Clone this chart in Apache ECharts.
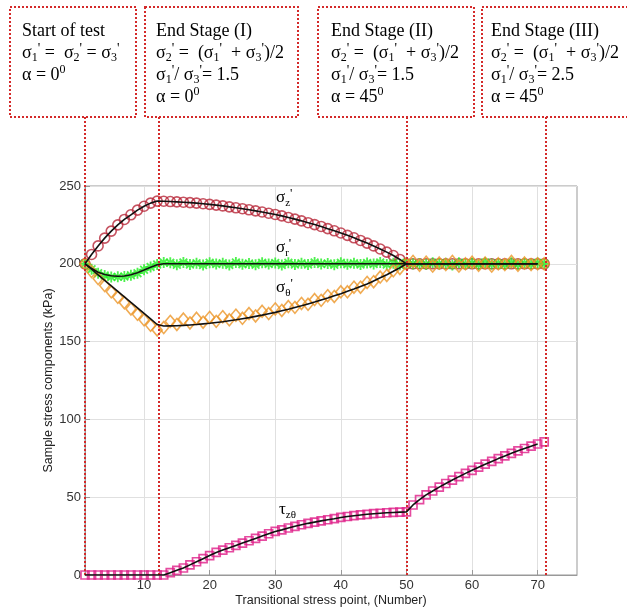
<!DOCTYPE html>
<html>
<head>
<meta charset="utf-8">
<script src="https://cdn.jsdelivr.net/npm/echarts@6/dist/echarts.min.js"></script>
<style>
html, body { margin: 0; padding: 0; background: #fff; }
#chart { width: 627px; height: 609px; }
</style>
</head>
<body>
<div id="chart"></div>
<script>
// stress point n = 1..71
var sigmaZ = [200, 206, 211.5, 216.5, 221, 225, 228.5, 231.5, 234.5, 237, 239, 240.3, 240.2,
	240, 239.8, 239.6, 239.3, 239, 238.6, 238.2, 237.7, 237.2, 236.6,
	236, 235.4, 234.7, 234, 233.3, 232.5, 231.7, 230.8, 229.8, 228.7,
	227.6, 226.4, 225.2, 224, 222.6, 221.2, 219.8, 218.3, 216.7, 215,
	213.3, 211.5, 209.5, 207.5, 205.3, 202.8, 200,
	200, 200, 200, 200, 200, 200, 200, 200, 200, 200,
	200, 200, 200, 200, 200, 200, 200, 200, 200, 200, 200];
var sigmaRFit = [200, 197, 194.6, 193.1, 192.3, 192, 192.2, 193, 194.3, 196, 197.8, 199.4, 200,
	200, 200, 200, 200, 200, 200, 200, 200, 200, 200,
	200, 200, 200, 200, 200, 200, 200, 200, 200, 200,
	200, 200, 200, 200, 200, 200, 200, 200, 200, 200,
	200, 200, 200, 200, 200, 200, 200, 200, 200, 200,
	200, 200, 200, 200, 200, 200, 200, 200, 200, 200,
	200, 200, 200, 200, 200, 200, 200, 200];
var sigmaRTest = [200, 196.5, 194, 192.5, 191.5, 191.6, 191.8, 192.6, 194, 196.2, 198, 199.6, 200.8,
	200.6, 199.4, 200.9, 199.6, 200.3, 199.2, 200.7, 199.8, 200.4, 199.3,
	200.8, 199.7, 200.2, 199.4, 200.6, 199.9, 200.5, 199.3, 200.7, 199.6,
	200.3, 199.5, 200.8, 199.8, 200.2, 199.4, 200.6, 199.7, 200.4, 199.5,
	200.5, 199.8, 200.9, 199.6, 200.3, 199.4, 200.7, 199.9, 200.2, 199.5,
	200.6, 199.8, 200.4, 199.3, 200.7, 199.7, 200.3, 199.6, 200.9, 199.8,
	200.2, 199.5, 200.6, 199.7, 200.4, 199.9, 200.5, 200];
var sigmaTFit = [200, 196.5, 192.9, 189.4, 185.8, 182.3, 178.8, 175.2, 171.7, 168.1, 164.6, 161, 160,
	160.1, 160.2, 160.4, 160.7, 161, 161.4, 161.8, 162.3, 162.8, 163.4,
	164, 164.7, 165.4, 166.2, 167, 167.9, 168.8, 169.8, 170.8, 171.9,
	173, 174.2, 175.4, 176.7, 178, 179.4, 180.8, 182.3, 183.8, 185.4,
	187, 189, 191, 193, 195.2, 197.5, 200,
	200, 200, 200, 200, 200, 200, 200, 200, 200, 200,
	200, 200, 200, 200, 200, 200, 200, 200, 200, 200, 200];
var sigmaTTest = [200, 195, 190.5, 186, 182, 178.5, 175, 171, 167.5, 164, 160.5, 157.5, 159,
	163, 161, 164.5, 162, 165, 162.5, 165.5, 163, 166, 164,
	167, 165, 168, 166.5, 169.5, 168, 171, 170, 172.5, 172,
	174.5, 174, 177, 176.5, 179.5, 179, 182, 182, 185, 185,
	188, 188.5, 191.5, 192.5, 195.5, 197, 200,
	201.5, 199, 201, 198.5, 200.5, 199.5, 201.5, 198.5, 200, 201,
	199, 200.5, 198.5, 200, 199.5, 201.5, 199, 200.5, 199.5, 200, 200];
var tauZT = [0, 0, 0, 0, 0, 0, 0, 0, 0, 0, 0, 0, 0,
	1.5, 3, 4.5, 6.5, 8.5, 10.5, 12.5, 14.5, 16, 17.5,
	19, 20.5, 22, 23.5, 25, 26.5, 28, 29, 30.2, 31.3,
	32.3, 33.2, 34, 34.8, 35.5, 36.2, 37, 37.6, 38.1, 38.6,
	39, 39.4, 39.7, 40, 40.2, 40.4, 40.6,
	45, 48.5, 51.5, 54, 56.5, 58.8, 61, 63.2, 65.3, 67.3,
	69.3, 71.2, 73, 74.8, 76.5, 78.2, 79.8, 81.3, 82.8, 84.2, 85.5];
var stagePoints = [1, 12.3, 50, 71.2];
var xTicks = [10, 20, 30, 40, 50, 60, 70];

var RED = '#d42a2a';
var SERIF = 'Liberation Serif';
var SANS = 'Liberation Sans';

function pairs(arr, n) {
	var out = [];
	for (var i = 0; i < (n || arr.length); i++) {
		out.push([i + 1, arr[i]]);
	}
	return out;
}

// rich text: m = main, b = subscript, t = prime, d = degree
function makeRich(size) {
	return {
		m: { fontSize: size, fontFamily: SERIF, color: '#111', lineHeight: 22 },
		b: { fontSize: size - 6, fontFamily: SERIF, color: '#111', lineHeight: 10, verticalAlign: 'bottom' },
		t: { fontSize: size - 4, fontFamily: SERIF, color: '#111', lineHeight: 12, verticalAlign: 'top' },
		d: { fontSize: size - 6, fontFamily: SERIF, color: '#111', lineHeight: 10, verticalAlign: 'top' }
	};
}
function sg(n) { return '{m|σ}{b|' + n + '}{t|\'}'; }
var eqLine = sg(2) + '{m| =  (}' + sg(1) + '{m|  + }' + sg(3) + '{m|)/2}';
function ratio(v) { return sg(1) + '{m|/ }' + sg(3) + '{m|= ' + v + '}'; }
function alpha(v) { return '{m|α = ' + v + '}{d|0}'; }

var boxes = [
	{ x: 10, w: 126, tx: 22, lines: ['{m|Start of test}', sg(1) + '{m| =  }' + sg(2) + '{m| = }' + sg(3), alpha('0')] },
	{ x: 145, w: 153, tx: 156, lines: ['{m|End Stage (I)}', eqLine, ratio('1.5'), alpha('0')] },
	{ x: 318, w: 156, tx: 331, lines: ['{m|End Stage (II)}', eqLine, ratio('1.5'), alpha('45')] },
	{ x: 482, w: 150, tx: 491, lines: ['{m|End Stage (III)}', eqLine, ratio('2.5'), alpha('45')] }
];
var graphics = [];
boxes.forEach(function(b) {
	graphics.push({
		type: 'rect', shape: { x: b.x, y: 7, width: b.w, height: 110 },
		style: { fill: 'none', stroke: RED, lineWidth: 2, lineDash: [2, 2] }
	});
	graphics.push({
		type: 'text', x: b.tx, y: 20,
		style: { text: b.lines.join('\n'), rich: makeRich(18), align: 'left', verticalAlign: 'top' }
	});
});
// curve names
[
	{ x: 276, y: 198, text: '{m|σ}{b|z}{t|\'}' },
	{ x: 276, y: 248, text: '{m|σ}{b|r}{t|\'}' },
	{ x: 276, y: 288, text: '{m|σ}{b|θ}{t|\'}' },
	{ x: 279, y: 510, text: '{m|τ}{b|zθ}' }
].forEach(function(l) {
	graphics.push({
		type: 'text', x: l.x, y: l.y, z: 100,
		style: { text: l.text, rich: makeRich(17), align: 'left', verticalAlign: 'middle' }
	});
});

var starPath = 'path://M-1,-6L1,-6L1,6L-1,6Z M-6,-1L6,-1L6,1L-6,1Z ' +
	'M-3.5,-4.9L4.9,3.5L3.5,4.9L-4.9,-3.5Z M4.9,-3.5L-3.5,4.9L-4.9,3.5L3.5,-4.9Z';

function fitLine(arr) {
	return {
		type: 'line', data: pairs(arr, 70), symbol: 'none', z: 5,
		lineStyle: { color: '#111', width: 1.6 }
	};
}

var chart = echarts.init(document.getElementById('chart'));
chart.setOption({
	animation: false,
	backgroundColor: '#fff',
	graphic: { elements: graphics },
	grid: [
		{ left: 85, right: 50, top: 186, bottom: 34, outerBoundsMode: 'none', show: true, borderColor: '#999', borderWidth: 1 },
		{ left: 85, right: 50, top: 117, bottom: 34, outerBoundsMode: 'none', show: false }
	],
	xAxis: [{
		type: 'value', min: 1, max: 76,
		name: 'Transitional stress point, (Number)', nameLocation: 'middle', nameGap: 19, nameMoveOverlap: false,
		nameTextStyle: { fontFamily: SANS, fontSize: 12.5, color: '#222' },
		axisLine: { lineStyle: { color: '#999' } },
		axisTick: { inside: true, length: 5, customValues: xTicks, lineStyle: { color: '#999' } },
		axisLabel: { customValues: xTicks, fontFamily: SANS, fontSize: 13, color: '#333', margin: 4 },
		splitLine: { show: true, lineStyle: { color: '#e0e0e0' } }
	}, {
		type: 'value', min: 1, max: 76, gridIndex: 1, show: false
	}],
	yAxis: [{
		type: 'value', min: 0, max: 250, interval: 50,
		name: 'Sample stress components (kPa)', nameLocation: 'middle', nameGap: 30, nameMoveOverlap: false,
		nameTextStyle: { fontFamily: SANS, fontSize: 12.5, color: '#222' },
		axisLine: { show: true, lineStyle: { color: '#999' } },
		axisTick: { show: true, inside: true, length: 5, lineStyle: { color: '#999' } },
		axisLabel: { fontFamily: SANS, fontSize: 13, color: '#333', margin: 4 },
		splitLine: { show: true, lineStyle: { color: '#e0e0e0' } }
	}, {
		type: 'value', min: 0, max: 1, gridIndex: 1, show: false
	}],
	series: [
		{
			type: 'scatter', data: pairs(sigmaZ), symbol: 'circle', symbolSize: 10, z: 2,
			itemStyle: { color: 'rgba(0,0,0,0)', borderColor: '#b8283a', borderWidth: 1.6 }
		},
		{
			type: 'scatter', data: pairs(sigmaRTest), symbol: starPath, symbolSize: 11, z: 3,
			itemStyle: { color: '#22ee22' }
		},
		{
			type: 'scatter', data: pairs(sigmaTTest), symbol: 'diamond', symbolSize: [10, 12], z: 3,
			itemStyle: { color: 'rgba(0,0,0,0)', borderColor: '#ec9628', borderWidth: 1.6 }
		},
		{
			type: 'scatter', data: pairs(tauZT), symbol: 'rect', symbolSize: 8, z: 3,
			itemStyle: { color: 'rgba(0,0,0,0)', borderColor: '#de1e88', borderWidth: 1.7 }
		},
		fitLine(sigmaZ),
		fitLine(sigmaRFit),
		fitLine(sigmaTFit),
		fitLine(tauZT),
		{
			type: 'line', xAxisIndex: 1, yAxisIndex: 1, data: [[1, 0]], symbol: 'none',
			lineStyle: { opacity: 0 }, z: 10,
			markLine: {
				silent: true, symbol: 'none', animation: false,
				label: { show: false },
				lineStyle: { color: RED, type: 'dotted', width: 2 },
				data: stagePoints.map(function(v) { return { xAxis: v }; })
			}
		}
	]
});
</script>
</body>
</html>
